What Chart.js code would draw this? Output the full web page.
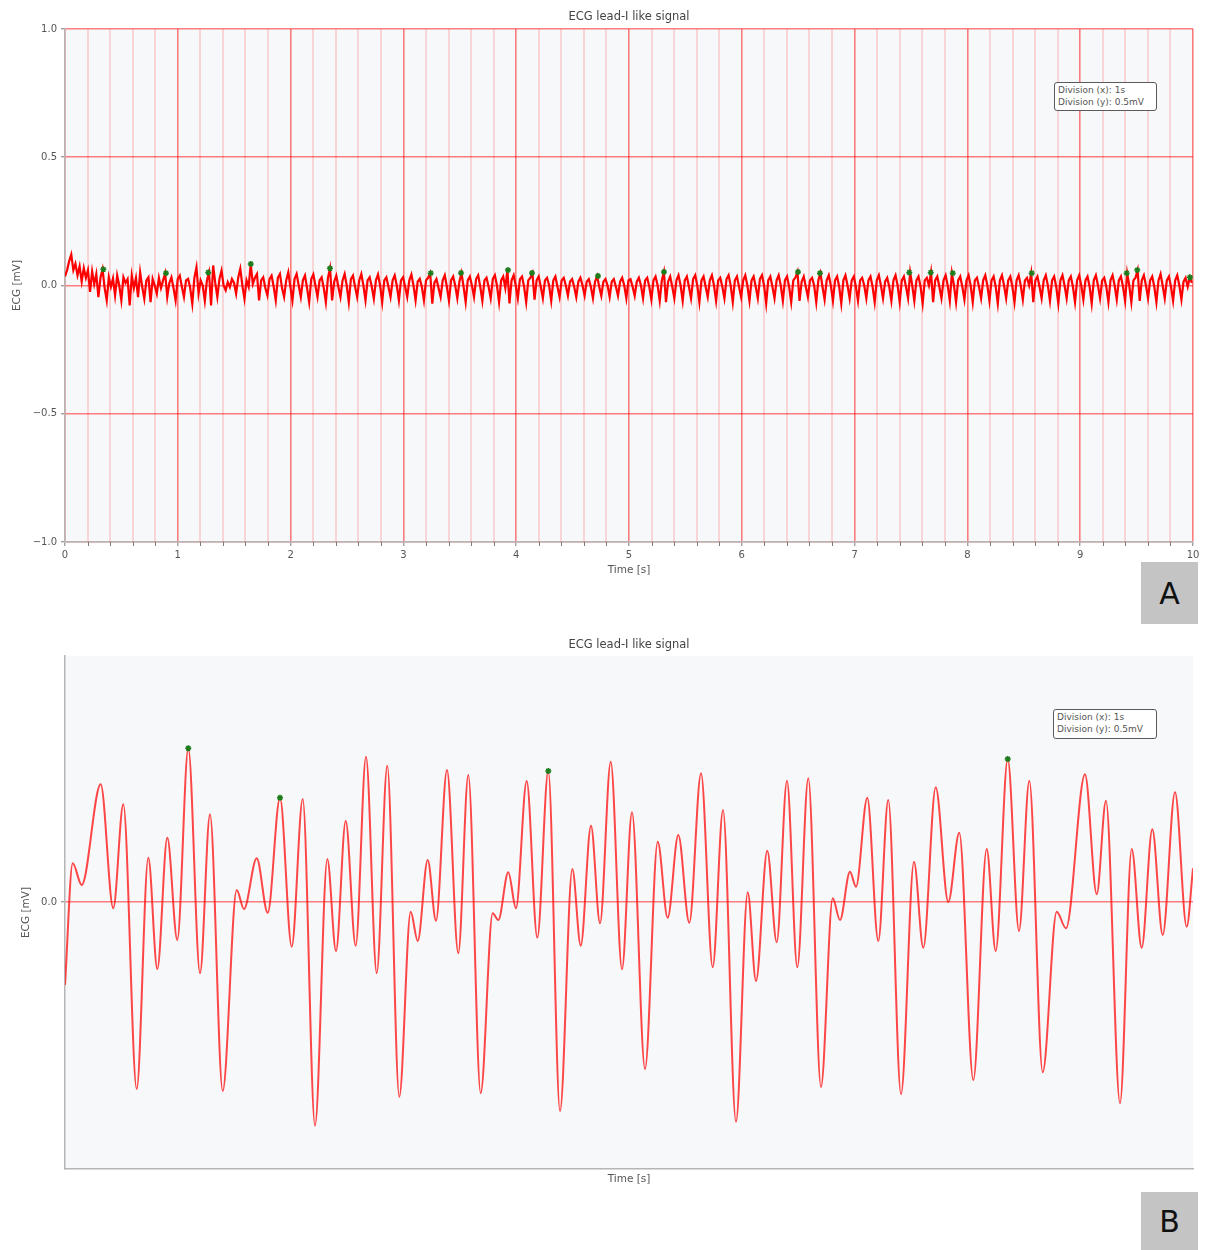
<!DOCTYPE html>
<html>
<head>
<meta charset="utf-8">
<title>ECG lead-I like signal</title>
<script src="https://cdn.jsdelivr.net/npm/chart.js@4.4.1/dist/chart.umd.min.js"></script>
<style>
  html, body { margin: 0; padding: 0; background: #ffffff; }
  body { width: 1205px; height: 1250px; position: relative; overflow: hidden; font-family: "DejaVu Sans", sans-serif; }
  canvas { position: absolute; left: 0; }
  #ecgA { top: 0; }
  #ecgB { top: 630px; }
  .note {
    position: absolute; box-sizing: border-box; background: #ffffff;
    border: 1.5px solid #5a5a5a; border-radius: 3px;
    font: 9px "DejaVu Sans", sans-serif; color: #555; line-height: 11.7px;
    padding: 2px 0 0 3px; white-space: nowrap;
  }
  .tag {
    position: absolute; left: 1141px; width: 57px; background: #c4c4c4; color: #111;
    font: 30px "DejaVu Sans", sans-serif; display: flex; align-items: center; justify-content: center;
  }
</style>
</head>
<body>
<canvas id="ecgA" width="1205" height="600"></canvas>
<canvas id="ecgB" width="1205" height="580"></canvas>
<div class="note" style="left:1054px;top:82px;width:103px;height:29px;">Division (x): 1s<br>Division (y): 0.5mV</div>
<div class="note" style="left:1053px;top:709px;width:104px;height:30px;">Division (x): 1s<br>Division (y): 0.5mV</div>
<div class="tag" style="top:562px;height:62px;">A</div>
<div class="tag" style="top:1192px;height:58px;">B</div>
<script>
// ---- Panel A: 10 s recording, sampled every aSampleInterval seconds (mV) ----
const aSampleInterval = 0.0185;
const aVolt = [
  0.035,0.060,0.095,0.121,0.060,0.085,0.040,0.075,0.015,0.068,0.030,0.060,-0.025,0.055,0.005,0.045,-0.045,0.030,0.063,-0.010,
  -0.058,0.032,-0.005,0.028,-0.039,0.039,0.000,-0.058,0.032,0.010,0.025,-0.078,0.039,-0.010,0.030,-0.045,0.052,-0.005,-0.052,0.020,
  0.032,-0.065,0.026,0.000,-0.032,0.030,-0.010,0.020,0.048,-0.045,0.010,0.032,-0.010,-0.058,0.025,0.039,-0.005,-0.045,0.020,0.026,
  -0.010,-0.071,0.030,0.071,-0.032,0.020,0.000,-0.060,0.020,0.051,-0.078,0.078,0.010,-0.045,0.025,0.058,0.000,-0.019,0.013,-0.006,
  0.025,0.010,-0.032,0.030,0.065,0.000,-0.052,0.020,-0.005,0.084,0.006,0.030,0.045,-0.058,0.020,0.032,-0.010,-0.039,0.025,0.039,
  -0.005,-0.058,0.030,0.045,-0.010,-0.045,0.020,0.052,-0.005,-0.058,0.025,0.045,0.000,-0.045,0.020,0.039,-0.010,-0.065,0.025,0.043,
  0.000,-0.045,0.020,0.032,-0.010,-0.065,0.030,0.067,-0.058,0.015,0.039,-0.005,-0.045,0.020,0.045,0.000,-0.065,0.025,0.039,-0.005,
  -0.045,0.020,0.045,0.000,-0.058,0.020,0.032,-0.005,-0.052,0.020,0.043,0.000,-0.065,0.020,0.032,-0.005,-0.045,0.020,0.039,0.000,
  -0.058,0.020,0.032,-0.005,-0.045,0.020,0.043,0.000,-0.058,0.015,0.026,-0.005,-0.058,0.020,0.030,0.048,-0.071,0.010,0.025,-0.010,
  -0.045,0.020,0.040,-0.005,-0.060,0.020,0.035,0.000,-0.050,0.015,0.049,-0.005,-0.065,0.020,0.035,0.000,-0.045,0.025,0.040,-0.005,
  -0.060,0.020,0.030,-0.005,-0.050,0.025,0.040,0.000,-0.065,0.020,0.035,-0.010,0.060,-0.070,0.020,0.040,0.000,-0.050,0.025,0.035,
  -0.005,-0.065,0.020,0.030,0.049,-0.055,0.020,0.035,-0.005,-0.050,0.020,0.030,0.000,-0.060,0.020,0.035,-0.005,-0.045,0.020,0.030,
  0.000,-0.040,0.015,0.025,-0.005,-0.045,0.015,0.030,0.000,-0.040,0.015,0.025,-0.005,-0.050,0.015,0.037,-0.005,-0.040,0.015,0.025,
  0.000,-0.045,0.015,0.025,-0.005,-0.040,0.015,0.030,0.000,-0.050,0.020,0.025,-0.005,-0.040,0.015,0.030,0.000,-0.050,0.020,0.030,
  -0.005,-0.055,0.020,0.035,0.000,-0.060,0.020,0.053,-0.065,0.015,0.035,-0.005,-0.050,0.020,0.040,0.000,-0.060,0.020,0.035,-0.005,
  -0.050,0.025,0.040,0.000,-0.065,0.020,0.035,-0.005,-0.045,0.020,0.040,0.000,-0.060,0.020,0.030,-0.005,-0.050,0.025,0.040,0.000,
  -0.065,0.020,0.035,-0.005,-0.045,0.020,0.040,0.000,-0.060,0.020,0.035,-0.005,-0.050,0.025,0.040,0.000,-0.070,0.020,0.035,-0.005,
  -0.050,0.020,0.040,0.000,-0.060,0.020,0.035,-0.005,-0.065,0.020,0.030,0.053,-0.060,0.015,0.035,-0.005,-0.045,0.020,0.030,0.000,
  -0.065,0.020,0.048,-0.005,-0.055,0.020,0.040,0.000,-0.060,0.020,0.035,-0.005,-0.070,0.020,0.040,0.000,-0.050,0.020,0.035,-0.005,
  -0.060,0.020,0.030,0.000,-0.050,0.020,0.035,-0.005,-0.065,0.020,0.040,0.000,-0.050,0.015,0.030,-0.005,-0.060,0.020,0.040,0.000,
  -0.065,0.020,0.035,-0.005,-0.050,0.051,0.000,-0.060,0.020,0.035,-0.005,-0.070,0.020,0.030,0.000,0.051,-0.065,0.020,0.035,-0.005,
  -0.050,0.020,0.040,0.000,-0.060,0.048,0.000,-0.065,0.020,0.035,-0.005,-0.055,0.020,0.040,0.000,-0.065,0.020,0.030,-0.005,-0.050,
  0.020,0.040,0.000,-0.060,0.020,0.035,-0.005,-0.070,0.020,0.040,0.000,-0.050,0.020,0.035,-0.005,-0.065,0.020,0.040,0.000,-0.055,
  0.020,0.030,0.000,0.048,-0.065,0.020,0.035,-0.005,-0.050,0.020,0.040,0.000,-0.060,0.020,0.035,-0.005,-0.070,0.020,0.040,0.000,
  -0.050,0.020,0.035,-0.005,-0.065,0.020,0.040,0.000,-0.055,0.020,0.035,-0.005,-0.070,0.020,0.040,0.000,-0.050,0.020,0.030,-0.005,
  -0.065,0.020,0.040,0.000,-0.055,0.020,0.035,-0.005,-0.060,0.048,0.000,-0.065,0.020,0.030,0.060,-0.060,0.020,0.040,0.000,-0.050,
  0.020,0.035,-0.005,-0.065,0.020,0.045,0.000,-0.050,0.020,0.035,-0.005,-0.060,0.020,0.040,0.000,-0.055,0.015,0.030,-0.005,0.032,
  0.010];
// detected peaks
const aPeakTime = [0.340,0.895,1.270,1.647,2.349,3.242,3.511,3.927,4.140,4.725,5.310,6.498,6.693,7.485,7.675,7.870,8.570,9.412,9.506,9.973];
const aPeakVolt = [0.063,0.048,0.051,0.084,0.067,0.048,0.049,0.060,0.049,0.037,0.053,0.053,0.048,0.051,0.051,0.048,0.048,0.048,0.060,0.032];
const aXTicks = [0,1,2,3,4,5,6,7,8,9,10];
const aMinorStep = 0.2;
const aYTicks = [-1.0,-0.5,0.0,0.5,1.0];

// ---- Panel B: close-up of the signal ----
const bTime = [0.0000,0.0137,0.0296,0.0633,0.0856,0.1034,0.1271,0.1477,0.1637,0.1814,0.1991,0.2186,0.2394,0.2571,0.2796,0.3044,0.3174,0.3399,0.3594,0.3812,
  0.4020,0.4215,0.4433,0.4651,0.4805,0.4977,0.5154,0.5337,0.5527,0.5714,0.5927,0.6129,0.6254,0.6431,0.6578,0.6773,0.6973,0.7151,0.7370,0.7583,
  0.7683,0.7860,0.7996,0.8186,0.8374,0.8569,0.8777,0.8995,0.9144,0.9326,0.9486,0.9676,0.9876,1.0053,1.0284,1.0509,1.0686,1.0874,1.1069,1.1277,
  1.1484,1.1667,1.1897,1.2105,1.2252,1.2452,1.2619,1.2801,1.2984,1.3179,1.3404,1.3612,1.3741,1.3918,1.4025,1.4225,1.4420,1.4597,1.4823,1.5053,
  1.5218,1.5438,1.5661,1.5856,1.6105,1.6342,1.6502,1.6715,1.6915,1.7098,1.7335,1.7583,1.7748,1.8085,1.8293,1.8457,1.8706,1.8913,1.9090,1.9278,
  1.9463,1.9681,1.9888,2.0000];
const bVolt = [-0.0332,0.0155,0.0068,0.0471,-0.0025,0.0391,-0.0748,0.0177,-0.0268,0.0257,-0.0152,0.0615,-0.0285,0.0351,-0.0756,0.0048,-0.0028,0.0175,-0.0043,0.0417,
  -0.0179,0.0412,-0.0895,0.0172,-0.0196,0.0324,-0.0175,0.0581,-0.0285,0.0545,-0.0779,-0.0039,-0.0156,0.0168,-0.0075,0.0528,-0.0205,0.0508,-0.0765,-0.0045,
  -0.0072,0.0119,-0.0025,0.0484,-0.0143,0.0524,-0.0836,0.0132,-0.0175,0.0305,-0.0085,0.0561,-0.0269,0.0359,-0.0668,0.0241,-0.0063,0.0268,-0.0083,0.0515,
  -0.0261,0.0368,-0.0879,0.0039,-0.0316,0.0205,-0.0161,0.0485,-0.0261,0.0495,-0.0740,0.0015,-0.0072,0.0121,0.0061,0.0417,-0.0156,0.0408,-0.0769,0.0161,
  -0.0183,0.0459,0.0000,0.0277,-0.0712,0.0212,-0.0196,0.0572,-0.0116,0.0485,-0.0681,-0.0039,-0.0105,0.0511,0.0031,0.0405,-0.0805,0.0212,-0.0183,0.0291,
  -0.0132,0.0439,-0.0099,0.0135];
const bPeakTime = [0.2186,0.3812,0.8569,1.6715];
const bPeakVolt = [0.0615,0.0417,0.0524,0.0572];
const bYTicks = [0.0];

const chartTitle = 'ECG lead-I like signal';
const xLabel = 'Time [s]';
const yLabel = 'ECG [mV]';

// ---- shared styling helpers ----
const FONT = '"DejaVu Sans", sans-serif';
const TEXT = '#555555';
const MAJOR = 'rgba(255,0,0,0.5)';
const MINOR = 'rgba(255,0,0,0.14)';
const TICK = '#7a7a7a';
const mvLabel = v => (Math.abs(v) < 1e-9 ? '0.0' : v.toFixed(1).replace('-', '\u2212'));
const toPoints = (xs, ys) => xs.map((x, i) => ({ x: x, y: ys[i] }));
const aSamples = aVolt.map((v, i) => ({ x: +(i * aSampleInterval).toFixed(4), y: v }));

const plotBackground = {
  id: 'plotBackground',
  beforeDraw(chart) {
    const { ctx, chartArea: a } = chart;
    ctx.save();
    ctx.fillStyle = '#f7f8fa';
    ctx.fillRect(a.left, a.top, a.right - a.left, a.bottom - a.top);
    ctx.restore();
  }
};
// light 0.2 s divisions between the 1 s grid lines, with their small axis ticks
const minorGrid = {
  id: 'minorGrid',
  beforeDatasetsDraw(chart, args, opts) {
    if (!opts.step) return;
    const { ctx, chartArea: a } = chart;
    const sx = chart.scales.x;
    const n = Math.round((sx.max - sx.min) / opts.step);
    ctx.save();
    for (let k = 0; k <= n; k++) {
      const v = sx.min + k * opts.step;
      if (Math.abs(v - Math.round(v)) < 1e-6) continue;
      const px = Math.round(sx.getPixelForValue(v));
      ctx.strokeStyle = MINOR; ctx.lineWidth = 2;
      ctx.beginPath(); ctx.moveTo(px, a.top); ctx.lineTo(px, a.bottom); ctx.stroke();
      ctx.strokeStyle = TICK; ctx.lineWidth = 1;
      ctx.beginPath(); ctx.moveTo(px + 0.5, a.bottom); ctx.lineTo(px + 0.5, a.bottom + 4); ctx.stroke();
    }
    ctx.restore();
  }
};
const headline = {
  id: 'headline',
  afterDraw(chart, args, opts) {
    const { ctx, chartArea: a } = chart;
    ctx.save();
    ctx.font = '11.5px ' + FONT;
    ctx.fillStyle = '#444';
    ctx.textAlign = 'center';
    ctx.textBaseline = 'middle';
    ctx.fillText(opts.text, (a.left + a.right) / 2, opts.y);
    ctx.restore();
  }
};

const peakSet = (xs, ys) => ({
  type: 'scatter', data: toPoints(xs, ys), pointStyle: 'star', pointRadius: 3,
  borderColor: '#1d7d1d', backgroundColor: '#1d7d1d', pointBorderWidth: 1.5, order: 0
});

// ---- Panel A ----
new Chart(document.getElementById('ecgA'), {
  type: 'line',
  data: {
    datasets: [
      { data: aSamples, borderColor: '#ff0000', borderWidth: 2.2, pointRadius: 0, tension: 0, order: 1 },
      peakSet(aPeakTime, aPeakVolt)
    ]
  },
  options: {
    responsive: false, animation: false, devicePixelRatio: 1,
    layout: { padding: { left: 0, right: 12, top: 29, bottom: 0 } },
    plugins: { legend: { display: false }, tooltip: { enabled: false },
               headline: { text: chartTitle, y: 17 }, minorGrid: { step: aMinorStep } },
    scales: {
      x: {
        type: 'linear', min: aXTicks[0], max: aXTicks[aXTicks.length - 1],
        afterBuildTicks(s) { s.ticks = aXTicks.map(v => ({ value: v })); },
        ticks: { autoSkip: false, maxRotation: 0, color: TEXT, padding: 3,
                 font: { family: FONT, size: 10 }, callback: v => String(v) },
        grid: { color: MAJOR, lineWidth: 1.6, tickColor: TICK, tickLength: 4, tickWidth: 1 },
        border: { color: '#b5b5b5', width: 1.5 },
        title: { display: true, text: xLabel, color: TEXT, font: { family: FONT, size: 10.5 }, padding: { top: 0, bottom: 23 } },
        afterFit(s) { s.height = 58; }
      },
      y: {
        type: 'linear', min: aYTicks[0], max: aYTicks[aYTicks.length - 1],
        afterBuildTicks(s) { s.ticks = aYTicks.map(v => ({ value: v })); },
        ticks: { color: TEXT, padding: 4, font: { family: FONT, size: 10 }, callback: v => mvLabel(v) },
        grid: { color: MAJOR, lineWidth: 1.6, tickColor: TICK, tickLength: 4, tickWidth: 1 },
        border: { color: '#b5b5b5', width: 1.5 },
        title: { display: true, text: yLabel, color: TEXT, font: { family: FONT, size: 10.5 }, padding: { top: 11, bottom: 0 } },
        afterFit(s) { s.width = 65; }
      }
    }
  },
  plugins: [plotBackground, minorGrid, headline]
});

// ---- Panel B ----
new Chart(document.getElementById('ecgB'), {
  type: 'line',
  data: {
    datasets: [
      { data: toPoints(bTime, bVolt), borderColor: 'rgba(255,20,20,0.78)', borderWidth: 2, pointRadius: 0,
        cubicInterpolationMode: 'monotone', order: 1 },
      peakSet(bPeakTime, bPeakVolt)
    ]
  },
  options: {
    responsive: false, animation: false, devicePixelRatio: 1,
    layout: { padding: { left: 0, right: 12, top: 26, bottom: 0 } },
    plugins: { legend: { display: false }, tooltip: { enabled: false }, headline: { text: chartTitle, y: 15 } },
    scales: {
      x: {
        type: 'linear', min: bTime[0], max: bTime[bTime.length - 1],
        ticks: { display: false },
        grid: { display: false },
        border: { color: '#b5b5b5', width: 1.5 },
        title: { display: true, text: xLabel, color: TEXT, font: { family: FONT, size: 10.5 }, padding: { top: 0, bottom: 24 } },
        afterFit(s) { s.height = 580 - 539; }
      },
      y: {
        type: 'linear', min: -0.1068, max: 0.0984,
        afterBuildTicks(s) { s.ticks = bYTicks.map(v => ({ value: v })); },
        ticks: { color: TEXT, padding: 4, font: { family: FONT, size: 10 }, callback: v => mvLabel(v) },
        grid: { color: MAJOR, lineWidth: 1.6, tickColor: TICK, tickLength: 4, tickWidth: 1 },
        border: { color: '#b5b5b5', width: 1.5 },
        title: { display: true, text: yLabel, color: TEXT, font: { family: FONT, size: 10.5 }, padding: { top: 20, bottom: 0 } },
        afterFit(s) { s.width = 65; }
      }
    }
  },
  plugins: [plotBackground, headline]
});
</script>
</body>
</html>
